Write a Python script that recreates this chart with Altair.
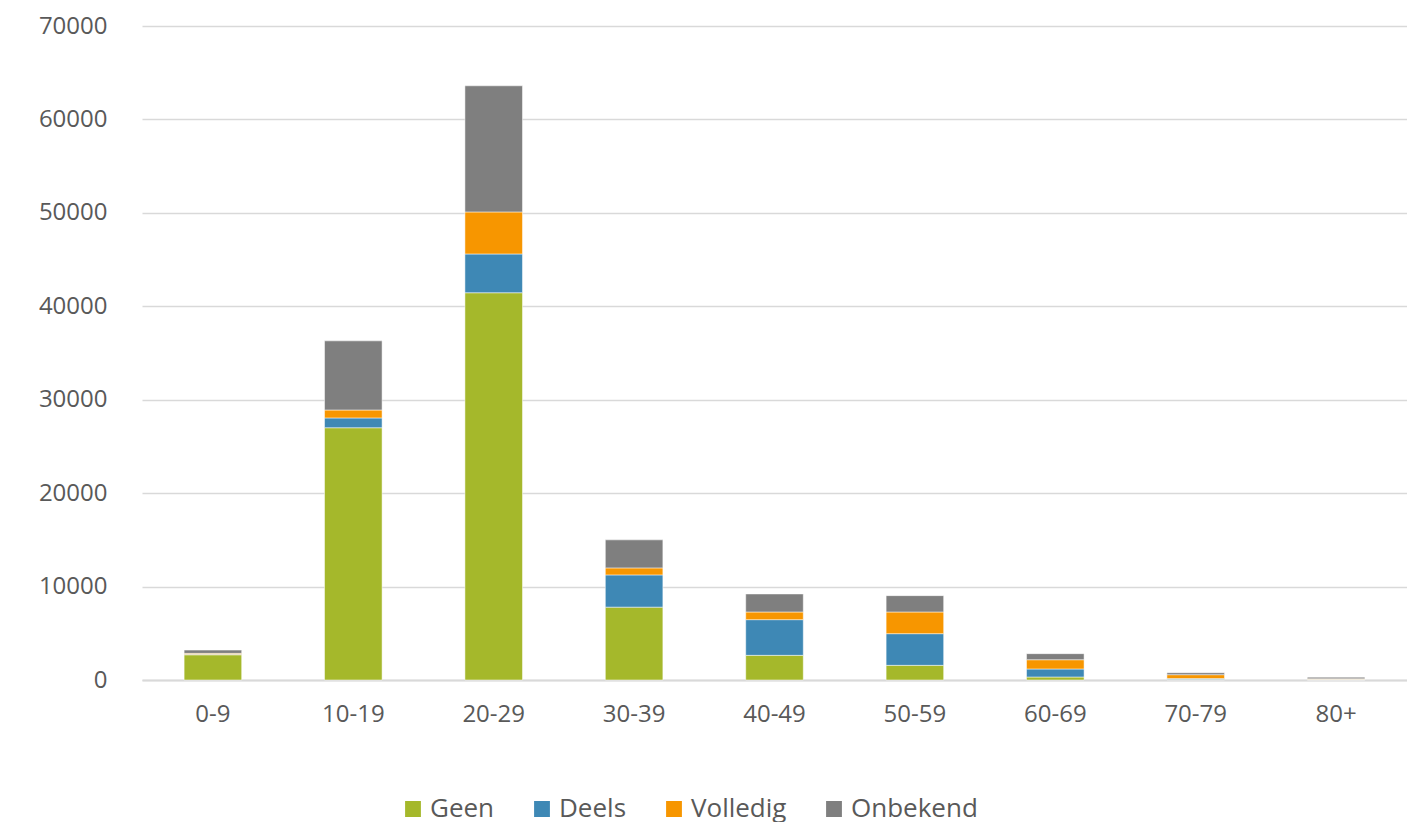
import altair as alt
import pandas as pd

AGES = ["0-9", "10-19", "20-29", "30-39", "40-49", "50-59", "60-69", "70-79", "80+"]
SERIES = ["Geen", "Deels", "Volledig", "Onbekend"]
COLORS = ["#A5B82B", "#3E88B5", "#F79600", "#7F7F7F"]

GEEN = [2700, 27000, 41450, 7800, 2640, 1570, 320, 50, 30]
DEELS = [50, 1050, 4150, 3450, 3820, 3390, 860, 100, 40]
VOLLEDIG = [100, 850, 4500, 750, 820, 2320, 990, 420, 60]
ONBEKEND = [350, 7400, 13500, 3000, 1930, 1750, 650, 210, 170]

rows = []
for i, values in enumerate([GEEN, DEELS, VOLLEDIG, ONBEKEND]):
    for age, v in zip(AGES, values):
        rows.append({"age": age, "series": SERIES[i], "order": i, "value": v})
data = pd.DataFrame(rows)

chart = (
    alt.Chart(data)
    .mark_bar(stroke="white", strokeWidth=0.5)
    .encode(
        x=alt.X(
            "age:N",
            sort=AGES,
            title=None,
            scale=alt.Scale(paddingInner=0.59, paddingOuter=0.3),
            axis=alt.Axis(labelAngle=0, labelPadding=22, ticks=False, domainColor="#D9D9D9", domainWidth=2),
        ),
        y=alt.Y(
            "value:Q",
            title=None,
            scale=alt.Scale(domain=[0, 70000]),
            axis=alt.Axis(values=list(range(0, 70001, 10000)), format="d", domain=False, ticks=False,
                          labelPadding=35, gridColor="#D9D9D9", gridWidth=1.5),
        ),
        color=alt.Color(
            "series:N",
            sort=SERIES,
            scale=alt.Scale(domain=SERIES, range=COLORS),
            legend=alt.Legend(orient="none", direction="horizontal", title=None, symbolType="square",
                              symbolSize=300, labelFontSize=26, labelColor="#595959", columnPadding=34,
                              legendX=258, legendY=770),
        ),
        order=alt.Order("order:Q"),
    )
    .properties(width=1265, height=654, padding={"left": 30, "top": 6, "right": 0, "bottom": 0})
    .configure_view(strokeWidth=0)
    .configure_axis(labelFontSize=24, labelColor="#595959", labelFont="Open Sans")
    .configure_legend(labelFont="Open Sans")
)

chart.save("out.html", embed_options={"renderer": "svg", "actions": False})
